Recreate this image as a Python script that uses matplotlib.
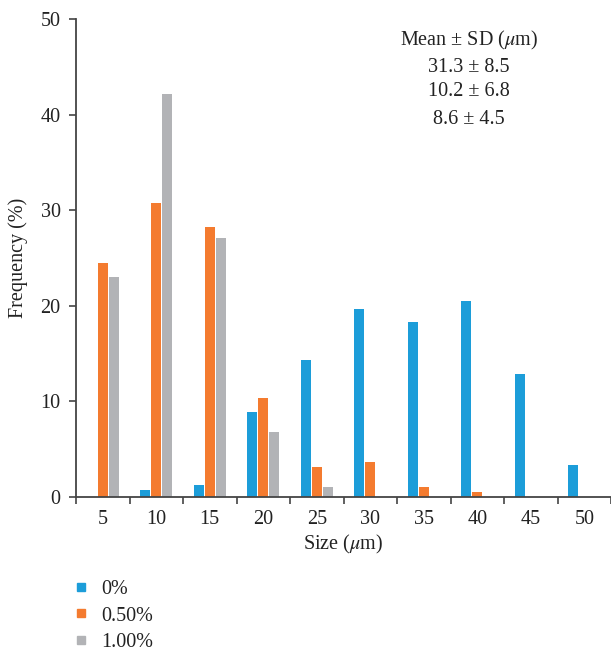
import matplotlib
matplotlib.use("Agg")
import matplotlib.pyplot as plt
from matplotlib.lines import Line2D
import numpy as np

plt.rcParams['font.family'] = ['Liberation Serif', 'DejaVu Serif']
plt.rcParams['mathtext.fontset'] = 'stix'

# particle size distribution per concentration
sizes = ['5', '10', '15', '20', '25', '30', '35', '40', '45', '50']
freq_0 = [0.0, 0.7, 1.3, 8.85, 14.3, 19.7, 18.35, 20.45, 12.9, 3.4]
freq_050 = [24.5, 30.8, 28.2, 10.4, 3.1, 3.65, 1.0, 0.5, 0.0, 0.0]
freq_100 = [23.0, 42.2, 27.1, 6.75, 1.0, 0.0, 0.0, 0.0, 0.0, 0.0]
series_labels = ['0%', '0.50%', '1.00%']
colors = ['#1c9dd9', '#f47b2f', '#b2b3b6']
stats = ['31.3 \u00b1 8.5', '10.2 \u00b1 6.8', '8.6 \u00b1 4.5']

fs = 14.5

fig = plt.figure(figsize=(6.11, 6.52), dpi=100)
ax = fig.add_axes([0.1244, 0.2377, 0.8756, 0.7332])

x = np.arange(len(sizes))
w = 0.19
off = 0.205
for k, vals in enumerate([freq_0, freq_050, freq_100]):
    ax.bar(x + (k - 1) * off, vals, width=w, color=colors[k], zorder=2)

ax.set_xlim(-0.5, len(sizes) - 0.5)
ax.set_ylim(0, 50)
ax.set_yticks([0, 10, 20, 30, 40, 50])
ax.set_xticks(x)
ax.set_xticklabels(sizes)
ax.set_xticks(np.arange(-0.5, len(sizes), 1.0), minor=True)
ax.tick_params(axis='x', which='major', length=0, pad=9, labelsize=fs, colors='#222222')
ax.tick_params(axis='x', which='minor', length=5, width=1.2, color='#444444')
ax.tick_params(axis='y', length=5, width=1.2, color='#444444', labelsize=fs, pad=6,
               labelcolor='#222222')

for s in ['top', 'right']:
    ax.spines[s].set_visible(False)
for s in ['left', 'bottom']:
    ax.spines[s].set_linewidth(1.3)
    ax.spines[s].set_color('#444444')

ax.set_xlabel('Size ($\\mu$m)', fontsize=fs, labelpad=3, color='#222222')
ax.set_ylabel('Frequency (%)', fontsize=fs, labelpad=9, color='#222222')

# summary statistics in the upper right
fig.text(0.768, 1 - 40 / 652, 'Mean \u00b1 SD ($\\mu$m)', ha='center', va='center',
         fontsize=fs, color='#222222')
for yy, t in zip([67, 92, 120], stats):
    fig.text(0.768, 1 - yy / 652, t, ha='center', va='center', fontsize=fs,
             color='#222222')

handles = [Line2D([], [], linestyle='none', marker='s', markersize=6,
                  markerfacecolor=c, markeredgecolor=c) for c in colors]
fig.legend(handles, series_labels, loc='upper left',
           bbox_to_anchor=(0.1, 1 - 568 / 652), frameon=False, fontsize=fs,
           handlelength=0.8, handletextpad=0.6, labelspacing=0.36,
           labelcolor='#222222', borderaxespad=0.2)

fig.savefig('out.png', dpi=100)
